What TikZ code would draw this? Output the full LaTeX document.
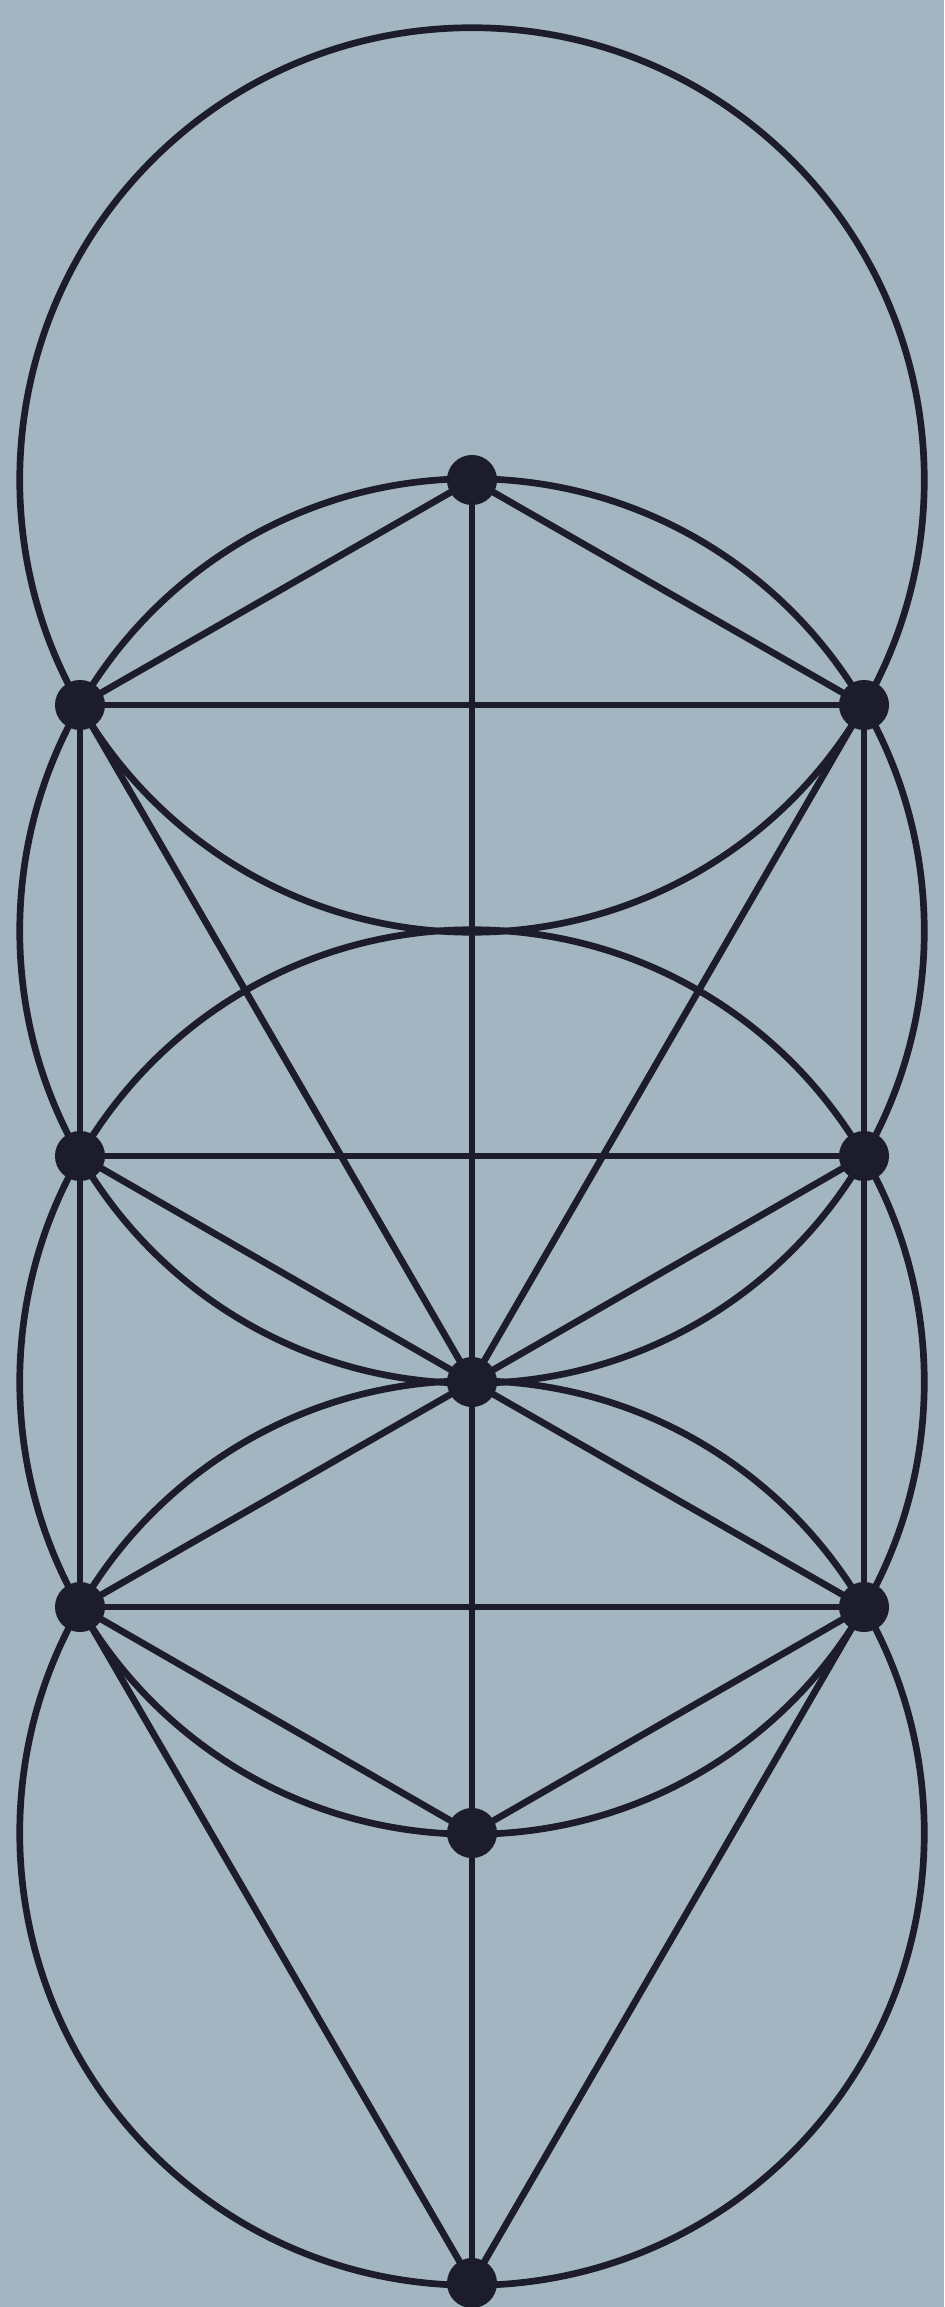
\documentclass[tikz,border=0pt]{standalone}
\definecolor{bg}{RGB}{164,181,194}
\definecolor{ink}{RGB}{28,28,42}
\begin{document}
\begin{tikzpicture}[x=0.01cm,y=-0.01cm,
  dot/.style={circle,fill=ink,draw=none,inner sep=0pt,outer sep=0pt,minimum size=0.5cm},
  path/.style={draw=ink,line width=1.9pt},
  ring/.style={draw=ink,line width=1.9pt}]
\fill[bg] (0,0) rectangle (944,2307);
\useasboundingbox (0,0) rectangle (944,2307);
% circle centres
\coordinate (D) at (472,931);
% sephiroth positions
\coordinate (K) at (472,480);
\coordinate (Ch) at (864,705);
\coordinate (Bi) at (80,705);
\coordinate (Cs) at (864,1156);
\coordinate (Ge) at (80,1156);
\coordinate (T) at (472,1382);
\coordinate (N) at (864,1607);
\coordinate (H) at (80,1607);
\coordinate (Y) at (472,1833);
\coordinate (M) at (472,2283);
% circles
\draw[ring] (K) circle[radius=4.52cm];
\draw[ring] (D) circle[radius=4.52cm];
\draw[ring] (T) circle[radius=4.52cm];
\draw[ring] (Y) circle[radius=4.52cm];
% paths
\draw[path] (K) -- (Ch);
\draw[path] (K) -- (Bi);
\draw[path] (K) -- (T);
\draw[path] (Bi) -- (Ch);
\draw[path] (Bi) -- (T);
\draw[path] (Ch) -- (T);
\draw[path] (Bi) -- (Ge);
\draw[path] (Ch) -- (Cs);
\draw[path] (Ge) -- (Cs);
\draw[path] (Ge) -- (T);
\draw[path] (Cs) -- (T);
\draw[path] (Ge) -- (H);
\draw[path] (Cs) -- (N);
\draw[path] (T) -- (H);
\draw[path] (T) -- (N);
\draw[path] (H) -- (N);
\draw[path] (H) -- (Y);
\draw[path] (N) -- (Y);
\draw[path] (T) -- (Y);
\draw[path] (H) -- (M);
\draw[path] (N) -- (M);
\draw[path] (Y) -- (M);
% dots
\foreach \n in {K,Ch,Bi,Cs,Ge,T,N,H,Y,M} \node[dot] (\n dot) at (\n) {};
\end{tikzpicture}
\end{document}
